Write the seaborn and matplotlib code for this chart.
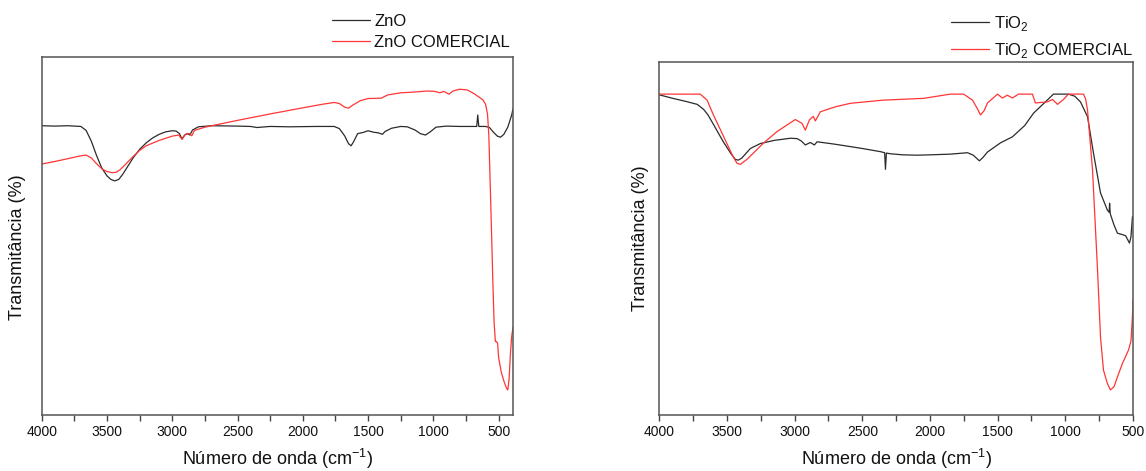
import matplotlib
matplotlib.use("Agg")
import matplotlib.pyplot as plt
from matplotlib.ticker import MultipleLocator
import seaborn as sns

# ---- ZnO panel ----
zno_wn = [4000, 3900, 3800, 3700, 3660, 3620, 3580, 3540, 3500, 3470, 3440, 3410, 3380, 3340,
          3300, 3250, 3200, 3150, 3100, 3050, 3000, 2970, 2945, 2925, 2905, 2885, 2865, 2845,
          2800, 2700, 2500, 2400, 2350, 2320, 2250, 2100, 1900, 1760, 1720, 1680, 1650, 1630,
          1610, 1580, 1540, 1500, 1460, 1420, 1390, 1370, 1320, 1250, 1200, 1140, 1100, 1060,
          1020, 980, 900, 800, 700, 668, 660, 652, 600, 570, 540, 510, 485, 460, 430, 400, 390]
zno_t = [80.8, 80.7, 80.8, 80.6, 79.5, 76.5, 72.5, 69.0, 66.8, 65.8, 65.4, 65.8, 67.2, 69.5,
         71.8, 74.2, 76.0, 77.4, 78.4, 79.1, 79.4, 79.3, 78.6, 77.1, 78.2, 78.6, 78.2, 79.6,
         80.5, 80.8, 80.7, 80.6, 80.3, 80.4, 80.6, 80.5, 80.6, 80.6, 80.0, 78.0, 75.8, 75.2,
         76.4, 78.6, 78.9, 79.4, 79.0, 78.8, 78.4, 79.2, 80.1, 80.6, 80.5, 79.6, 78.6, 78.2,
         79.2, 80.4, 80.7, 80.6, 80.6, 80.6, 83.8, 80.6, 80.6, 80.3, 79.0, 77.9, 77.6, 78.4,
         80.4, 83.8, 85.5]

zno_com_wn = [4000, 3900, 3800, 3700, 3660, 3620, 3580, 3540, 3500, 3460, 3430, 3400, 3350,
              3300, 3250, 3200, 3100, 3000, 2950, 2925, 2900, 2870, 2850, 2830, 2750, 2500,
              2250, 2000, 1850, 1760, 1720, 1680, 1650, 1620, 1560, 1500, 1400, 1350, 1250,
              1150, 1050, 990, 950, 920, 880, 850, 800, 740, 690, 650, 620, 600, 585, 575, 565,
              555, 545, 535, 525, 515, 508, 500, 480, 460, 440, 430, 420, 410, 400, 390]
zno_com_t = [70.1, 70.8, 71.6, 72.4, 72.6, 71.8, 70.2, 68.8, 68.0, 67.7, 67.8, 68.5, 70.3,
             72.2, 73.9, 75.2, 76.7, 77.9, 78.2, 77.0, 78.4, 78.6, 78.0, 79.5, 80.4, 82.3,
             84.1, 85.8, 86.8, 87.3, 87.0, 86.0, 85.7, 86.5, 87.8, 88.4, 88.5, 89.4, 90.0,
             90.2, 90.5, 90.4, 90.0, 90.4, 89.6, 90.5, 91.0, 90.8, 89.8, 88.8, 88.0, 86.8, 84.0,
             78.0, 65.0, 52.0, 38.0, 26.0, 20.5, 20.5, 20.0, 16.0, 12.0, 9.5, 7.5, 7.0, 10.0,
             17.0, 22.0, 24.5]

# ---- TiO2 panel ----
tio2_wn = [4000, 3900, 3800, 3720, 3673, 3640, 3601, 3560, 3527, 3470, 3438, 3416, 3390,
           3327, 3253, 3150, 3032, 2982, 2950, 2921, 2884, 2854, 2834, 2700, 2500, 2366, 2335,
           2329, 2322, 2292, 2200, 2095, 2000, 1849, 1723, 1680, 1635, 1610, 1575, 1479, 1391,
           1300, 1235, 1150, 1088, 977, 930, 888, 836, 792, 740, 690, 676, 673, 668, 640, 615,
           578, 555, 526, 515, 504]
tio2_t = [90.7, 89.7, 88.8, 88.0, 86.6, 85.0, 82.4, 79.6, 77.4, 74.0, 72.4, 72.2, 72.8,
          75.5, 76.9, 77.8, 78.4, 78.3, 77.6, 76.5, 77.2, 76.5, 77.4, 76.7, 75.5, 74.6, 74.3,
          69.6, 74.2, 74.0, 73.7, 73.6, 73.7, 73.9, 74.3, 73.6, 72.0, 72.9, 74.5, 77.1, 78.8,
          82.0, 85.5, 88.6, 90.9, 90.9, 90.3, 88.7, 84.5, 74.2, 62.9, 58.1, 57.4, 60.0, 57.0,
          53.8, 51.5, 51.1, 50.8, 48.7, 50.5, 56.2]

tio2_com_wn = [4000, 3850, 3697, 3647, 3600, 3520, 3460, 3426, 3401, 3350, 3231, 3130,
               2995, 2945, 2921, 2891, 2862, 2847, 2810, 2700, 2588, 2344, 2048, 1849, 1752,
               1686, 1650, 1627, 1600, 1575, 1501, 1465, 1428, 1391, 1346, 1243, 1221, 1132,
               1095, 1058, 1013, 977, 866, 850, 836, 799, 762, 740, 718, 690, 667, 640, 615,
               578, 533, 515, 504, 500]
tio2_com_t = [90.9, 90.9, 90.9, 89.2, 85.0, 78.5, 73.6, 71.3, 71.0, 72.5, 77.0, 80.3,
              83.7, 82.6, 80.7, 83.6, 84.6, 83.3, 85.9, 87.3, 88.3, 89.2, 89.7, 90.9, 90.9,
              89.2, 86.8, 85.0, 86.2, 88.4, 90.9, 89.8, 90.6, 89.8, 90.9, 90.9, 88.4, 88.7,
              89.4, 88.0, 89.4, 90.9, 90.9, 89.5, 86.4, 69.4, 41.0, 22.0, 12.7, 9.0, 7.1, 8.0,
              10.8, 14.6, 18.4, 21.0, 28.0, 32.6]

sns.set_style("ticks")
plt.rcParams["font.family"] = ["Liberation Sans", "DejaVu Sans"]
plt.rcParams["mathtext.fontset"] = "custom"
plt.rcParams["mathtext.rm"] = "Liberation Sans"
plt.rcParams["text.color"] = "#111111"
plt.rcParams["axes.labelcolor"] = "#111111"
plt.rcParams["xtick.labelcolor"] = "#111111"

W, H = 1146, 471
fig = plt.figure(figsize=(W / 100, H / 100), dpi=100)
ax1 = fig.add_axes([41.7 / W, 1 - 415 / H, (513 - 41.7) / W, (415 - 57) / H])
ax2 = fig.add_axes([659.3 / W, 1 - 415 / H, (1133 - 659.3) / W, (415 - 62) / H])

black = "#2b2b2b"
red = "#ff3535"

sns.lineplot(x=zno_wn, y=zno_t, ax=ax1, color=black, lw=0.9, sort=False,
             estimator=None, label="ZnO")
sns.lineplot(x=zno_com_wn, y=zno_com_t, ax=ax1, color=red, lw=0.9, sort=False,
             estimator=None, label="ZnO COMERCIAL")
sns.lineplot(x=tio2_wn, y=tio2_t, ax=ax2, color=black, lw=0.9, sort=False,
             estimator=None, label=r"TiO$_\mathregular{2}$")
sns.lineplot(x=tio2_com_wn, y=tio2_com_t, ax=ax2, color=red, lw=0.9, sort=False,
             estimator=None, label=r"TiO$_\mathregular{2}$ COMERCIAL")

ax1.set_xlim(4000, 390)
ax2.set_xlim(4000, 500)

for ax in (ax1, ax2):
    ax.set_ylim(0, 100)
    ax.set_yticks([])
    ax.xaxis.set_major_locator(MultipleLocator(500))
    ax.xaxis.set_minor_locator(MultipleLocator(250))
    ax.tick_params(axis="x", which="major", length=4, width=1, color="#444444",
                   labelsize=10, pad=3)
    ax.tick_params(axis="x", which="minor", length=4, width=1, color="#444444")
    for s in ax.spines.values():
        s.set_visible(True)
        s.set_color("#555555")
        s.set_linewidth(1.1)
    ax.set_xlabel("Número de onda (cm$^{\\mathregular{-1}}$)", fontsize=13, labelpad=6)
    ax.set_ylabel("Transmitância (%)", fontsize=13)

ax1.yaxis.set_label_coords(-0.034, 0.47)
ax2.yaxis.set_label_coords(-0.022, 0.5)

ax1.legend(loc="upper left", bbox_to_anchor=(332 / W, 1 - 14 / H),
           bbox_transform=fig.transFigure, frameon=False, fontsize=12,
           handlelength=2.3, handletextpad=0.25, labelspacing=0.35,
           borderpad=0, borderaxespad=0)
ax2.legend(loc="upper left", bbox_to_anchor=(951 / W, 1 - 14 / H),
           bbox_transform=fig.transFigure, frameon=False, fontsize=12,
           handlelength=2.3, handletextpad=0.25, labelspacing=0.5,
           borderpad=0, borderaxespad=0)

fig.savefig("out.png", dpi=100)
